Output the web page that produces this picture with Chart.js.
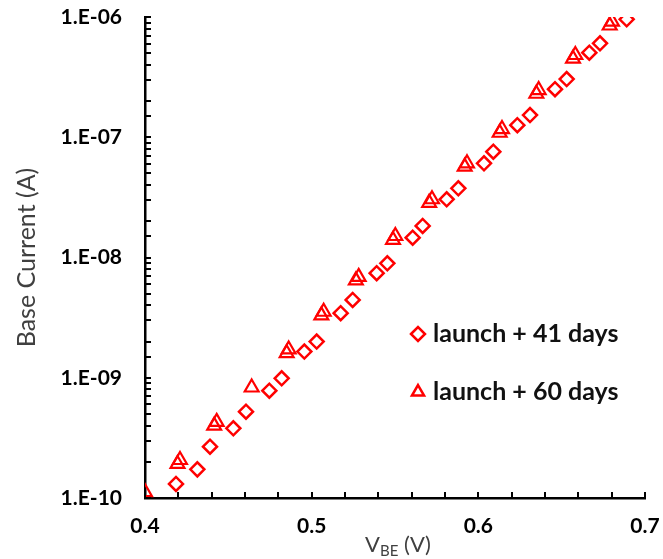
<!DOCTYPE html>
<html>
<head>
<meta charset="utf-8">
<script src="https://cdn.jsdelivr.net/npm/chart.js@4"></script>
<style>
  html, body { margin: 0; padding: 0; background: #fff; }
  #wrap { width: 663px; height: 559px; position: relative; }
</style>
</head>
<body>
<div id="wrap"><canvas id="chart"></canvas></div>
<script>
// base-emitter voltage (V) and base current (A)
const vbe41 = [0.4186, 0.4314, 0.439, 0.453, 0.4606, 0.4746, 0.482, 0.4956, 0.503, 0.5174,
  0.5246, 0.539, 0.5454, 0.5606, 0.5666, 0.581, 0.588, 0.6034, 0.609, 0.6234,
  0.631, 0.646, 0.653, 0.6666, 0.673, 0.689];
const ib41 = [1.31e-10, 1.73e-10, 2.67e-10, 3.8e-10, 5.22e-10, 7.8e-10, 9.9e-10, 1.65e-9, 2.0e-9, 3.44e-9,
  4.44e-9, 7.4e-9, 8.95e-9, 1.46e-8, 1.83e-8, 3.05e-8, 3.76e-8, 6.07e-8, 7.58e-8, 1.26e-7,
  1.53e-7, 2.51e-7, 3.05e-7, 5.05e-7, 6.04e-7, 9.57e-7];

const vbe60 = [0.4, 0.4195, 0.421, 0.4415, 0.443, 0.464, 0.485, 0.4862, 0.5058, 0.5072,
  0.5265, 0.5282, 0.5488, 0.5502, 0.5705, 0.5722, 0.5918, 0.5932, 0.6128, 0.6142,
  0.6348, 0.6362, 0.6568, 0.6582, 0.6788, 0.6802];
const ib60 = [1.12e-10, 1.92e-10, 2.07e-10, 4.0e-10, 4.3e-10, 8.3e-10, 1.6e-9, 1.72e-9, 3.3e-9, 3.54e-9,
  6.45e-9, 6.9e-9, 1.4e-8, 1.51e-8, 2.85e-8, 3.05e-8, 5.7e-8, 6.07e-8, 1.09e-7, 1.17e-7,
  2.3e-7, 2.47e-7, 4.5e-7, 4.83e-7, 8.5e-7, 9.14e-7];

const seriesNames = ["launch + 41 days", "launch + 60 days"];
const xTicks = [0.4, 0.5, 0.6, 0.7];

const RED = "#ff0000";
const FONT = "Lato";

const toPoints = (xs, ys) => xs.map((x, i) => ({ x: x, y: ys[i] }));

const isDecade = (v) => Math.abs(Math.log10(v) - Math.round(Math.log10(v))) < 1e-6;

// Excel-style tick marks pointing into the plot
const innerTicks = {
  id: "innerTicks",
  afterDatasetsDraw(chart) {
    const { ctx, chartArea, scales } = chart;
    ctx.save();
    ctx.strokeStyle = "#000";
    ctx.lineWidth = 2;
    scales.x.ticks.forEach((t) => {
      const px = Math.round(scales.x.getPixelForValue(t.value));
      ctx.beginPath();
      ctx.moveTo(px, chartArea.bottom);
      ctx.lineTo(px, chartArea.bottom - 6);
      ctx.stroke();
    });
    scales.y.ticks.forEach((t) => {
      const py = Math.round(scales.y.getPixelForValue(t.value));
      ctx.beginPath();
      ctx.moveTo(chartArea.left, py);
      ctx.lineTo(chartArea.left + 6, py);
      ctx.stroke();
    });
    ctx.restore();
  },
};

// legend inside the plot plus the subscripted x-axis title
const annotations = {
  id: "annotations",
  afterDraw(chart) {
    const { ctx, chartArea } = chart;
    const styles = ["rectRot", "triangle"];
    const lx = chartArea.left + 273;
    const ly = [chartArea.top + 317, chartArea.top + 375];
    ctx.save();
    styles.forEach((s, i) => {
      ctx.strokeStyle = RED;
      ctx.lineWidth = 2.5;
      ctx.fillStyle = "rgba(0,0,0,0)";
      Chart.helpers.drawPoint(ctx, { pointStyle: s, radius: 7, rotation: 0, borderWidth: 2.5 }, lx, ly[i]);
      ctx.fillStyle = "#111";
      ctx.font = "bold 25px " + FONT;
      ctx.textBaseline = "middle";
      ctx.textAlign = "left";
      ctx.fillText(seriesNames[i], lx + 15, ly[i]);
    });

    // V_BE (V)
    const cx = (chartArea.left + chartArea.right) / 2 + 3;
    const by = 552;
    ctx.fillStyle = "#404040";
    ctx.textBaseline = "alphabetic";
    ctx.font = "22px " + FONT;
    const wV = ctx.measureText("V").width;
    const wTail = ctx.measureText(" (V)").width;
    ctx.font = "15px " + FONT;
    const wSub = ctx.measureText("BE").width;
    let x0 = cx - (wV + wSub + wTail) / 2;
    ctx.font = "22px " + FONT;
    ctx.fillText("V", x0, by);
    ctx.font = "15px " + FONT;
    ctx.fillText("BE", x0 + wV, by + 4);
    ctx.font = "22px " + FONT;
    ctx.fillText(" (V)", x0 + wV + wSub, by);
    ctx.restore();
  },
};

new Chart(document.getElementById("chart"), {
  type: "scatter",
  data: {
    datasets: [
      {
        label: seriesNames[0],
        data: toPoints(vbe41, ib41),
        pointStyle: "rectRot",
        pointRadius: 7,
        pointBorderWidth: 2.5,
        borderColor: RED,
        backgroundColor: "rgba(0,0,0,0)",
      },
      {
        label: seriesNames[1],
        data: toPoints(vbe60, ib60),
        pointStyle: "triangle",
        pointRadius: 8,
        pointBorderWidth: 2.2,
        borderColor: RED,
        backgroundColor: "rgba(0,0,0,0)",
      },
    ],
  },
  options: {
    responsive: true,
    maintainAspectRatio: false,
    animation: false,
    layout: { padding: { top: 17, right: 18, bottom: 0, left: 0 } },
    plugins: {
      legend: { display: false },
      tooltip: { enabled: false },
    },
    scales: {
      x: {
        type: "linear",
        min: 0.4,
        max: 0.7,
        afterFit: (s) => {
          s.height = 61;
          s.paddingLeft = 0;
          s.paddingRight = 0;
        },
        border: { color: "#000", width: 2.5 },
        grid: { display: false },
        ticks: {
          stepSize: 0.02,
          padding: 8,
          color: "#000",
          font: { family: FONT, size: 21, weight: "bold" },
          autoSkip: false,
          maxRotation: 0,
          callback: (v) => {
            const hit = xTicks.find((t) => Math.abs(t - v) < 1e-6);
            return hit === undefined ? "" : hit.toFixed(1);
          },
        },
      },
      y: {
        type: "logarithmic",
        min: 1e-10,
        max: 1e-6,
        afterFit: (s) => {
          s.width = 145;
          s.paddingTop = 0;
          s.paddingBottom = 0;
        },
        border: { color: "#000", width: 2.5 },
        grid: { display: false },
        title: {
          display: true,
          text: "Base Current (A)",
          color: "#404040",
          font: { family: FONT, size: 25 },
          padding: { top: 12 },
        },
        ticks: {
          padding: 15,
          color: "#000",
          font: { family: FONT, size: 21, weight: "bold" },
          autoSkip: false,
          callback: (v) => {
            if (!isDecade(v)) return "";
            const e = Math.round(Math.log10(v));
            return "1.E-" + String(-e).padStart(2, "0");
          },
        },
      },
    },
  },
  plugins: [innerTicks, annotations],
});
</script>
</body>
</html>
